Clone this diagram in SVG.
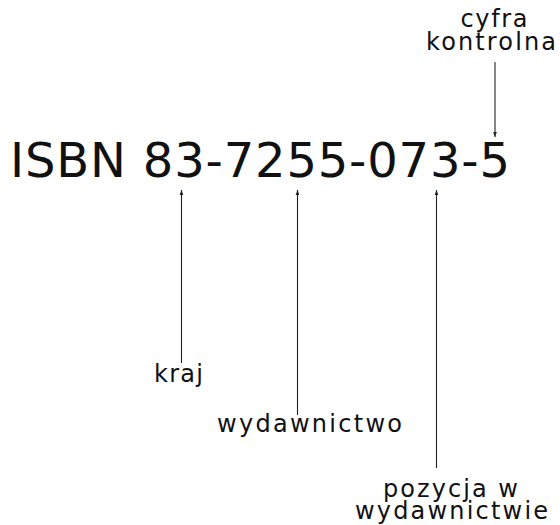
<svg xmlns="http://www.w3.org/2000/svg" width="560" height="525" viewBox="0 0 560 525">
<style>
text{font-family:"DejaVu Sans","Noto Sans",sans-serif;fill:#111}
.lbl{font-size:24px;text-anchor:middle}
.isbn{font-size:48px}
.c{stroke:#222;stroke-width:1.1;fill:none}
</style>
<defs>
<marker id="ah" viewBox="0 0 6 6" refX="6" refY="3" markerWidth="5" markerHeight="5" markerUnits="userSpaceOnUse" orient="auto">
<path d="M0,0.8 L6,3 L0,5.2 Z" fill="#222"/>
</marker>
</defs>
<rect width="560" height="525" fill="#fff"/>
<g id="isbn"><text class="isbn" x="10" y="177" textLength="500" lengthAdjust="spacing">ISBN 83-7255-073-5</text></g>
<g id="cyfra"><text class="lbl" x="494" y="27" textLength="67" lengthAdjust="spacing">cyfra</text><text class="lbl" x="491" y="50" textLength="130" lengthAdjust="spacing">kontrolna</text></g>
<g id="kraj"><text class="lbl" x="178.5" y="382" textLength="49" lengthAdjust="spacing">kraj</text></g>
<g id="wydawnictwo"><text class="lbl" x="309.5" y="432" textLength="185" lengthAdjust="spacing">wydawnictwo</text></g>
<g id="pozycja"><text class="lbl" x="450.5" y="497" textLength="135" lengthAdjust="spacing">pozycja w</text><text class="lbl" x="451.5" y="519" textLength="193" lengthAdjust="spacing">wydawnictwie</text></g>
<g id="connectors">
<line class="c" x1="495" y1="62" x2="495" y2="137" marker-end="url(#ah)"/>
<line class="c" x1="181.5" y1="363" x2="181.5" y2="190" marker-end="url(#ah)"/>
<line class="c" x1="297.5" y1="415" x2="297.5" y2="190" marker-end="url(#ah)"/>
<line class="c" x1="436.5" y1="468" x2="436.5" y2="190" marker-end="url(#ah)"/>
</g>
</svg>
